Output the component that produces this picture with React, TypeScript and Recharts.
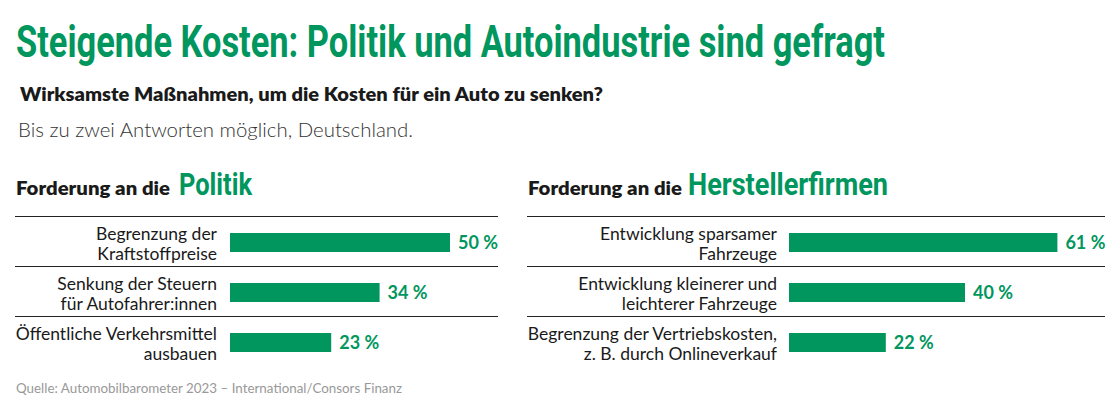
import React from 'react';
import { BarChart, Bar, XAxis, YAxis, LabelList } from 'recharts';

const GREEN = '#00965E';

const politikLabels = [
    'Begrenzung der\nKraftstoffpreise',
    'Senkung der Steuern\nfür Autofahrer:innen',
    'Öffentliche Verkehrsmittel\nausbauen',
];
const politikValues = [50, 34, 23];

const herstellerLabels = [
    'Entwicklung sparsamer\nFahrzeuge',
    'Entwicklung kleinerer und\nleichterer Fahrzeuge',
    'Begrenzung der Vertriebskosten,\nz. B. durch Onlineverkauf',
];
const herstellerValues = [61, 40, 22];

const LABEL_FONT = 'Lato, "Noto Sans", sans-serif';
const HEAD_FONT = 'Roboto, "Liberation Sans", sans-serif';

const MultiLineTick = (props: any) => {
    const { x, y, payload } = props;
    const lines: string[] = String(payload.value).split('\n');
    return (
        <text x={x} y={y} textAnchor="end" fill="#1a1a1a" fontSize={17.5} fontFamily={LABEL_FONT}>
            {lines.map((line, i) => (
                <tspan key={i} x={x} y={y - 2 + i * 20}>{line}</tspan>
            ))}
        </text>
    );
};

// condensed headline: small font stretched vertically, squeezed to the measured width
const Condensed = ({ x, y, size, stretch, width, children }: any) => (
    <text
        transform={`translate(${x},${y}) scale(1,${stretch})`}
        fontSize={size}
        fontWeight={700}
        fill={GREEN}
        fontFamily={HEAD_FONT}
        textLength={width}
        lengthAdjust="spacingAndGlyphs"
    >
        {children}
    </text>
);

interface PanelProps {
    labels: string[];
    values: number[];
    left: number;
    width: number;
    axisWidth: number;
    gap: number;
    max: number;
    right: number;
}

function Panel({ labels, values, left, width, axisWidth, gap, max, right }: PanelProps) {
    const data = labels.map((name, i) => ({ name, value: values[i] }));
    return (
        <div style={{ position: 'absolute', left, top: 217 }}>
            {[0, 50, 100].map((t) => (
                <div key={t} style={{ position: 'absolute', left: 0, top: t - 1, width, height: 0, borderTop: '1.5px solid #222' }} />
            ))}
            <BarChart width={width} height={150} data={data} layout="vertical" margin={{ top: 0, right, bottom: 0, left: 0 }} style={{ overflow: 'visible' }}>
                <XAxis type="number" domain={[0, max]} hide />
                <YAxis
                    type="category"
                    dataKey="name"
                    width={axisWidth}
                    axisLine={false}
                    tickLine={false}
                    tickSize={0}
                    tickMargin={gap}
                    tick={<MultiLineTick />}
                    interval={0}
                />
                <Bar dataKey="value" fill={GREEN} barSize={19} isAnimationActive={false}>
                    <LabelList
                        dataKey="value"
                        position="right"
                        offset={8}
                        formatter={(v: any) => `${v} %`}
                        style={{ fill: GREEN, fontWeight: 700, fontSize: 18, fontFamily: LABEL_FONT }}
                    />
                </Bar>
            </BarChart>
        </div>
    );
}

export default function App() {
    return (
        <div style={{ position: 'absolute', left: 0, top: 0, width: 1113, height: 412, background: '#fff', overflow: 'hidden' }}>
            <svg width={1113} height={412} style={{ position: 'absolute', left: 0, top: 0 }}>
                <Condensed x={16} y={57} size={32} stretch={1.4} width={869}>
                    Steigende Kosten: Politik und Autoindustrie sind gefragt
                </Condensed>
                <text x={20} y={101} fontSize={19.5} fontWeight={800} fill="#1a1a1a" fontFamily={LABEL_FONT} textLength={583} lengthAdjust="spacingAndGlyphs">
                    Wirksamste Maßnahmen, um die Kosten für ein Auto zu senken?
                </text>
                <text x={18} y={137} fontSize={19.5} fontWeight={300} fill="#333" fontFamily={LABEL_FONT} textLength={395} lengthAdjust="spacingAndGlyphs">
                    Bis zu zwei Antworten möglich, Deutschland.
                </text>
                <text x={16} y={195} fontSize={18} fontWeight={800} fill="#1a1a1a" fontFamily={LABEL_FONT} textLength={154} lengthAdjust="spacingAndGlyphs">
                    Forderung an die
                </text>
                <Condensed x={179} y={195} size={23} stretch={1.35} width={73}>
                    Politik
                </Condensed>
                <text x={528} y={195} fontSize={18} fontWeight={800} fill="#1a1a1a" fontFamily={LABEL_FONT} textLength={154} lengthAdjust="spacingAndGlyphs">
                    Forderung an die
                </text>
                <Condensed x={688} y={195} size={23} stretch={1.35} width={200}>
                    Herstellerfirmen
                </Condensed>
                <text x={16} y={393} fontSize={13} fill="#999" fontFamily={LABEL_FONT} textLength={386} lengthAdjust="spacingAndGlyphs">
                    Quelle: Automobilbarometer 2023 – International/Consors Finanz
                </text>
            </svg>
            <Panel labels={politikLabels} values={politikValues} left={15} width={483} axisWidth={215} gap={13} max={60} right={4} />
            <Panel labels={herstellerLabels} values={herstellerValues} left={527} width={578} axisWidth={262} gap={12} max={70} right={8} />
        </div>
    );
}
